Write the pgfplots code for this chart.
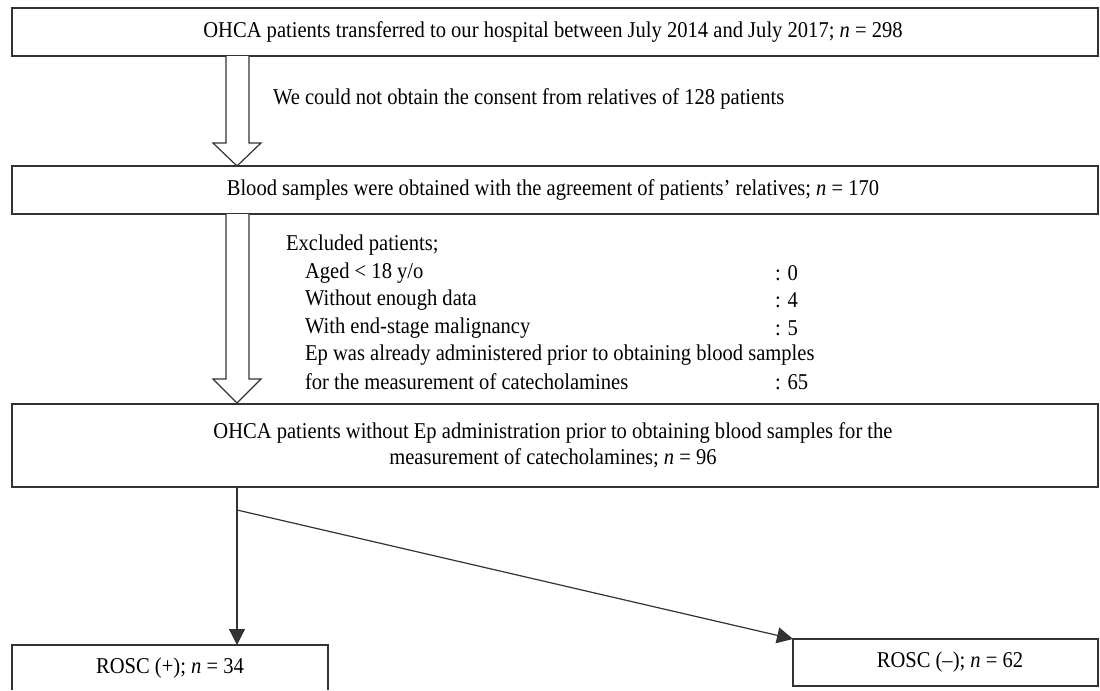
\documentclass[border=0pt]{standalone}
\usepackage{fontspec}
\setmainfont{Liberation Serif}[FakeStretch=0.91]
\usepackage{pgfplots}
\pgfplotsset{compat=1.18}
\usetikzlibrary{arrows.meta}
\begin{document}
\begin{tikzpicture}[font=\fontsize{11.3}{13.5}\selectfont]
\begin{axis}[hide axis, scale only axis, width=550pt, height=344pt,
  xmin=0, xmax=1100, ymin=0, ymax=688, y dir=reverse, clip=false]
\path (axis cs:0,0) rectangle (axis cs:1100,688);
\tikzset{bx/.style={line width=0.6pt, draw=black!80}}
% boxes
\draw[bx] (axis cs:12,8) rectangle (axis cs:1098,56);
\node at (axis cs:553,32) {OHCA patients transferred to our hospital between July 2014 and July 2017; \textit{n} = 298};
\draw[bx] (axis cs:12,166) rectangle (axis cs:1098,214);
\node at (axis cs:553,190) {Blood samples were obtained with the agreement of patients' relatives; \textit{n} = 170};
\draw[bx] (axis cs:12,404) rectangle (axis cs:1098,487);
\node at (axis cs:553,433) {OHCA patients without Ep administration prior to obtaining blood samples for the};
\node at (axis cs:553,458) {measurement of catecholamines; \textit{n} = 96};
\draw[bx] (axis cs:12,690) -- (axis cs:12,645) -- (axis cs:328,645) -- (axis cs:328,690);
\node at (axis cs:170,668) {ROSC (+); \textit{n} = 34};
\draw[bx] (axis cs:793,686) rectangle (axis cs:1098,639);
\node at (axis cs:950,662) {ROSC (--); \textit{n} = 62};
% hollow arrows
\draw[bx, fill=white] (axis cs:226,56) -- (axis cs:226,143) -- (axis cs:213,143) -- (axis cs:237,166) -- (axis cs:261,143) -- (axis cs:249,143) -- (axis cs:249,56);
\draw[bx, fill=white] (axis cs:226,214) -- (axis cs:226,379) -- (axis cs:213,379) -- (axis cs:237,403) -- (axis cs:261,379) -- (axis cs:249,379) -- (axis cs:249,214);
\node[anchor=west] at (axis cs:266,99) {We could not obtain the consent from relatives of 128 patients};
% excluded list
\node[anchor=west] at (axis cs:279,245) {Excluded patients;};
\node[anchor=west] at (axis cs:298,273) {Aged < 18 y/o};
\node[anchor=west] at (axis cs:298,300) {Without enough data};
\node[anchor=west] at (axis cs:298,328) {With end-stage malignancy};
\node[anchor=west] at (axis cs:298,355) {Ep was already administered prior to obtaining blood samples};
\node[anchor=west] at (axis cs:298,382) {for the measurement of catecholamines};
\node[anchor=west] at (axis cs:768,273) {: 0};
\node[anchor=west] at (axis cs:768,300) {: 4};
\node[anchor=west] at (axis cs:768,328) {: 5};
\node[anchor=west] at (axis cs:768,382) {: 65};
% split arrows
\draw[bx, -{Triangle[length=8pt,width=8pt]}] (axis cs:237,487) -- (axis cs:237,645);
\draw[bx, -{Triangle[length=8pt,width=8pt]}] (axis cs:237,510) -- (axis cs:793,639);
\end{axis}
\end{tikzpicture}
\end{document}
